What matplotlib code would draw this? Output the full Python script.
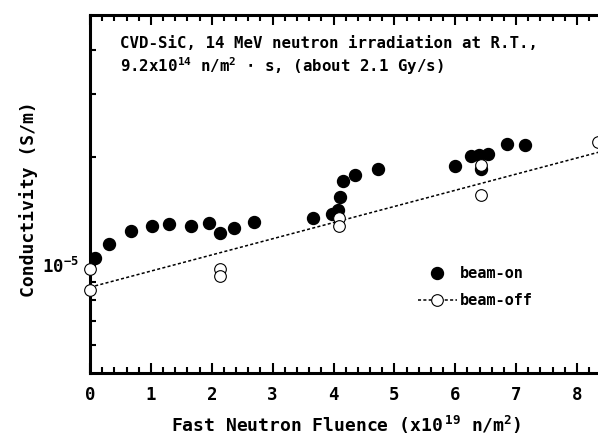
import matplotlib
matplotlib.use("Agg")
import matplotlib.pyplot as plt
from matplotlib.lines import Line2D
from matplotlib.ticker import FixedLocator, FixedFormatter, NullFormatter, MultipleLocator

# beam-on (filled circles)
on_x = [0.03, 0.08, 0.31, 0.67, 1.02, 1.30, 1.66, 1.95, 2.13, 2.36, 2.69,
        3.66, 3.97, 4.07, 4.11, 4.15, 4.35, 4.73, 5.99, 6.26, 6.39, 6.54,
        6.42, 6.85, 7.14]
on_y = [1.039e-5, 1.046e-5, 1.144e-5, 1.243e-5, 1.283e-5, 1.300e-5, 1.283e-5,
        1.308e-5, 1.227e-5, 1.267e-5, 1.317e-5, 1.351e-5, 1.394e-5, 1.431e-5,
        1.555e-5, 1.723e-5, 1.790e-5, 1.859e-5, 1.896e-5, 2.021e-5, 2.034e-5,
        2.047e-5, 1.859e-5, 2.182e-5, 2.168e-5]

# beam-off (open circles)
off_x = [0.0, 0.0, 2.13, 2.13, 4.09, 4.09, 6.42, 6.42, 8.34]
off_y = [0.975e-5, 0.852e-5, 0.975e-5, 0.932e-5, 1.359e-5, 1.283e-5,
         1.908e-5, 1.575e-5, 2.21e-5]

# dotted trend line through beam-off data
fit_x = [0.0, 8.5]
fit_y = [0.868e-5, 2.10e-5]

plt.rcParams['font.family'] = 'DejaVu Sans Mono'
plt.rcParams['font.weight'] = 'bold'
plt.rcParams['axes.labelweight'] = 'bold'
plt.rcParams['mathtext.fontset'] = 'custom'
for k in ['rm', 'it', 'bf', 'sf', 'tt']:
    plt.rcParams['mathtext.' + k] = 'DejaVu Sans Mono:bold'

W, H = 598, 437
fig = plt.figure(figsize=(W / 100, H / 100), dpi=100)
ax = fig.add_axes([90 / W, (H - 373) / H, 8.5 * 60.875 / W, 358 / H])

ax.plot(fit_x, fit_y, color='black', lw=1.1, linestyle=(0, (2, 1.5)), zorder=2)
ax.plot(on_x, on_y, 'o', ms=8.6, mfc='black', mec='black', zorder=3)
ax.plot(off_x, off_y, 'o', ms=8.4, mfc='white', mec='black', mew=0.8, zorder=4,
        clip_on=False)

ax.set_yscale('log')
ax.set_xlim(0, 8.5)
ax.set_ylim(5e-6, 5e-5)

ax.xaxis.set_major_locator(MultipleLocator(1))
ax.xaxis.set_minor_locator(MultipleLocator(0.2))
ax.yaxis.set_major_locator(FixedLocator([1e-5]))
ax.yaxis.set_major_formatter(FixedFormatter([r'$\mathregular{10^{-5}}$']))
ax.yaxis.set_minor_locator(FixedLocator([6e-6, 7e-6, 8e-6, 9e-6, 2e-5, 3e-5, 4e-5]))
ax.yaxis.set_minor_formatter(NullFormatter())

for s in ax.spines.values():
    s.set_linewidth(2.2)

ax.tick_params(axis='x', which='both', direction='in', top=True, labelsize=12.5, pad=9)
ax.tick_params(axis='x', which='major', length=7, width=1.5)
ax.tick_params(axis='x', which='minor', length=4, width=1.5)
ax.tick_params(axis='y', which='both', direction='in', right=False, labelsize=12.5, pad=8)
ax.tick_params(axis='y', which='major', length=4, width=1.5)
ax.tick_params(axis='y', which='minor', length=4, width=1.5)

ax.set_xlabel(r'Fast Neutron Fluence (x10$^{\ 19}$ n/m$^{2}$)', fontsize=13)
ax.xaxis.set_label_coords(0.495, -0.115)
ax.set_ylabel('Conductivity (S/m)', fontsize=13)
ax.yaxis.set_label_coords(-0.1005, 0.485)

fig.text(120 / W, 1 - 48 / H, 'CVD-SiC, 14 MeV neutron irradiation at R.T.,',
         fontsize=11.3, va='baseline')
fig.text(120 / W, 1 - 72 / H, r'9.2x10$^{14}$ n/m$^{2}$ $\cdot$ s, (about 2.1 Gy/s)',
         fontsize=11.3, va='baseline')

h_on = Line2D([], [], linestyle='none', marker='o', ms=8.6, mfc='black', mec='black')
h_off = Line2D([], [], color='black', lw=1.1, linestyle=(0, (2, 1.5)),
               marker='o', ms=8.4, mfc='white', mec='black', mew=0.8)
fig.legend([h_on, h_off], ['beam-on', 'beam-off'], loc='upper left',
           bbox_to_anchor=(418 / W, 1 - 266 / H), frameon=False, fontsize=11,
           handlelength=2.55, handletextpad=0.2, labelspacing=0.8,
           borderpad=0, borderaxespad=0)

fig.savefig('out.png', dpi=100)
